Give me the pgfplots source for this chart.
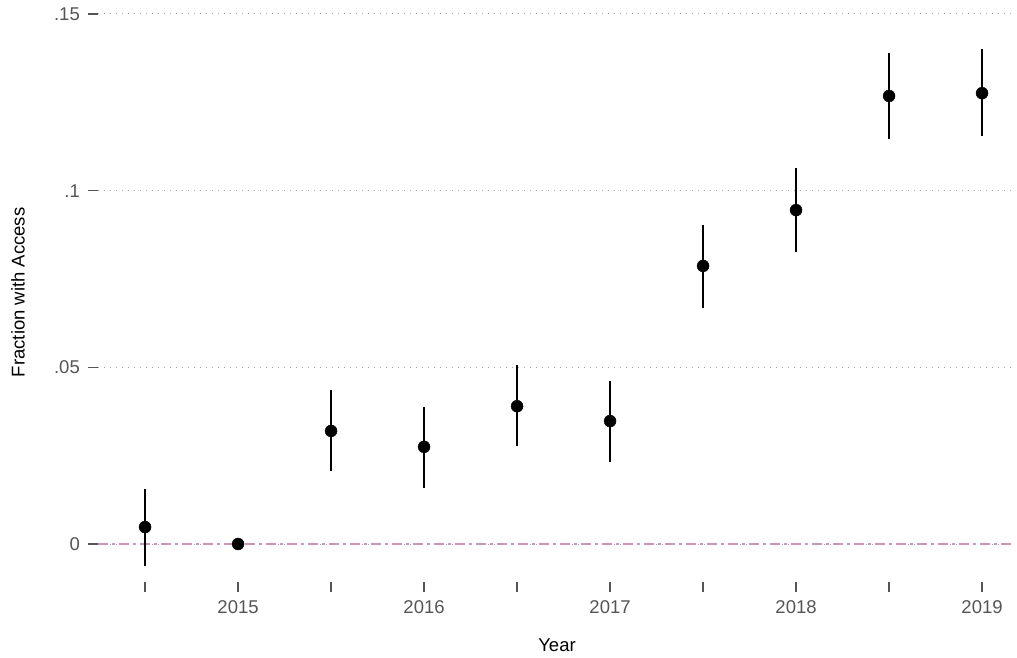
\documentclass[border=0pt]{standalone}
\usepackage{pgfplots}
\pgfplotsset{compat=1.18}
\usepackage{pgfplotstable}
\usepackage{fontspec}
\setmainfont{Liberation Sans}
\definecolor{tickgray}{HTML}{555555}
\definecolor{zeroline}{RGB}{205,150,185}
\pgfplotstableread{
x y ep em
2014.5 0.0048 0.0108 0.0110
2015.0 0.0000 0.0000 0.0000
2015.5 0.0320 0.0116 0.0113
2016.0 0.0275 0.0113 0.0117
2016.5 0.0390 0.0117 0.0113
2017.0 0.0348 0.0113 0.0116
2017.5 0.0787 0.0116 0.0119
2018.0 0.0945 0.0119 0.0119
2018.5 0.1268 0.0122 0.0122
2019.0 0.1276 0.0125 0.0121
}\datatab
\begin{document}
\fontsize{18}{21}\selectfont
\begin{tikzpicture}
\path[use as bounding box] (0,0) rectangle (1017pt,657pt);
\begin{axis}[
  at={(98pt,75pt)}, anchor=south west,
  scale only axis, width=914pt, height=568pt,
  xmin=2014.247, xmax=2019.161,
  ymin=-0.01075, ymax=0.15,
  axis line style={draw=none},
  tick pos=left,
  tick align=outside,
  major tick length=10pt,
  tick style={color=tickgray, line width=1.3pt},
  xtick={2014.5,2015,2015.5,2016,2016.5,2017,2017.5,2018,2018.5,2019},
  xticklabels={,2015,,2016,,2017,,2018,,2019},
  ytick={0,0.05,0.1,0.15},
  yticklabels={0,.05,.1,.15},
  ymajorgrids,
  grid style={color=gray!70, line width=1pt, dash pattern=on 1pt off 5pt},
  ticklabel style={font=\fontsize{18.5}{21}\selectfont, text=tickgray},
  /pgf/number format/assume math mode=true,
  xticklabel style={yshift=-2pt},
  yticklabel style={xshift=-2pt},
  xlabel={Year},
  ylabel={Fraction with Access},
  label style={font=\fontsize{18.5}{21}\selectfont, text=black},
  xlabel style={at={(axis description cs:0.5,0)}, anchor=center, yshift=-63pt, xshift=2pt},
  ylabel style={at={(axis description cs:-0.0875,0.51)}, anchor=center},
  clip=false,
]
\addplot[zeroline, line width=1.2pt, dash pattern=on 10pt off 4pt on 3pt off 4pt] coordinates {(2014.247,0) (2019.161,0)};
\addplot[only marks, mark=*, mark size=6pt, mark options={fill=black, draw=black},
  error bars/.cd, y dir=both, y explicit, error mark=none,
  error bar style={line width=1.8pt, black}]
  table[x=x, y=y, y error plus=ep, y error minus=em] {\datatab};
\end{axis}
\end{tikzpicture}
\end{document}
